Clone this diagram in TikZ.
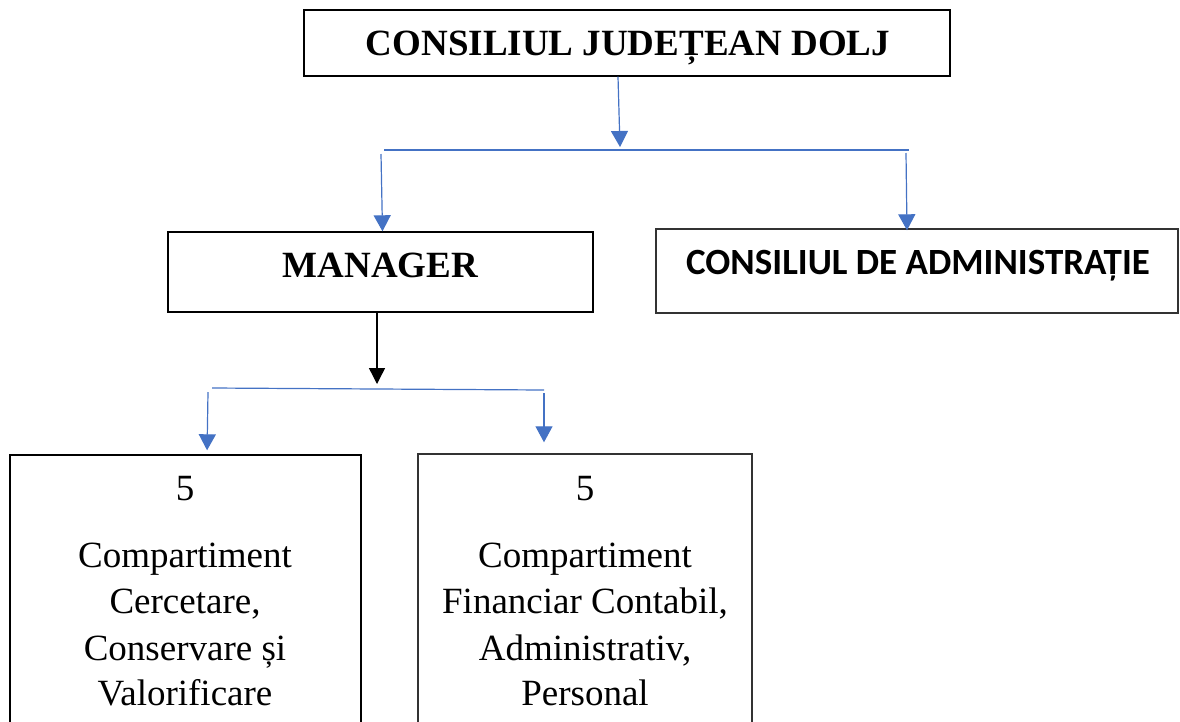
\documentclass[tikz,border=0pt]{standalone}
\usepackage{fontspec}
\setmainfont{Liberation Serif}
\newfontfamily\carlitofont{Carlito}
\usetikzlibrary{arrows.meta}
\definecolor{wblue}{HTML}{4472C4}
\definecolor{dgray}{HTML}{333333}
\begin{document}
\begin{tikzpicture}[x=1pt,y=-1pt,
  box/.style={draw=black,line width=1.4pt,inner sep=0pt,fill=none},
  gbox/.style={box,draw=dgray},
  bigtxt/.style={font=\fontsize{37}{46}\selectfont,inner sep=0pt,anchor=base},
  bluearr/.style={draw=wblue,line width=1.2pt,-{Triangle[width=17pt,length=16pt]}},
  blackarr/.style={draw=black,line width=1.4pt,-{Triangle[width=16pt,length=16pt]}},
  busline/.style={draw=wblue,line width=1.2pt}]
\useasboundingbox (0,0) rectangle (1180,721);
% boxes
\node[box,minimum width=646pt,minimum height=66pt] (cjd) at (627,43) {};
\node[box,minimum width=425pt,minimum height=80pt] (mgr) at (380.5,272) {};
\node[gbox,minimum width=522pt,minimum height=84pt] (cda) at (917,271) {};
\node[box,minimum width=351pt,minimum height=285pt] (b1) at (185.5,597.5) {};
\node[gbox,minimum width=334pt,minimum height=286pt] (b2) at (585,597) {};
% texts
\node[bigtxt,font=\fontsize{37}{46}\selectfont\bfseries] (tcjd) at (628,55) {CONSILIUL JUDEȚEAN DOLJ};
\node[bigtxt,font=\fontsize{37}{46}\selectfont\bfseries] (tmgr) at (380.5,277) {MANAGER};
\node[bigtxt,font=\fontsize{37}{46}\selectfont\carlitofont\bfseries] (tcda) at (918,274) {CONSILIUL DE ADMINISTRAȚIE};
\node[bigtxt] (l1) at (185,500) {5};
\node[bigtxt] (l2) at (185,567) {Compartiment};
\node[bigtxt] (l3) at (185,613) {Cercetare,};
\node[bigtxt] (l4) at (185,660) {Conservare și};
\node[bigtxt] (l5) at (185,705) {Valorificare};
\node[bigtxt] (r1) at (585,500) {5};
\node[bigtxt] (r2) at (585,567) {Compartiment};
\node[bigtxt] (r3) at (585,613) {Financiar Contabil,};
\node[bigtxt] (r4) at (585,660) {Administrativ,};
\node[bigtxt] (r5) at (585,705) {Personal};
% connectors
\coordinate (t1) at (620,147);
\coordinate (busL) at (384,150);
\coordinate (busR) at (909,150);
\coordinate (s1) at (381,154);
\coordinate (s2) at (906,153);
\draw[bluearr] ([xshift=-9pt]cjd.south) -- (t1);
\draw[busline] (busL) -- (busR);
\draw[bluearr] (s1) -- ([xshift=2pt]mgr.north);
\draw[bluearr] (s2) -- ([xshift=-10pt,yshift=-2pt]cda.north);
\coordinate (t2) at (377,384);
\coordinate (bus2L) at (212,388);
\coordinate (bus2R) at (544,390);
\coordinate (s3) at (208,392);
\coordinate (s4) at (544,393);
\draw[blackarr] ([xshift=-3.5pt]mgr.south) -- (t2);
\draw[busline] (bus2L) -- (bus2R);
\draw[bluearr,shorten >=4pt] (s3) -- ([xshift=21.5pt]b1.north);
\draw[bluearr,shorten >=11pt] (s4) -- ([xshift=-41pt]b2.north);
\end{tikzpicture}
\end{document}
